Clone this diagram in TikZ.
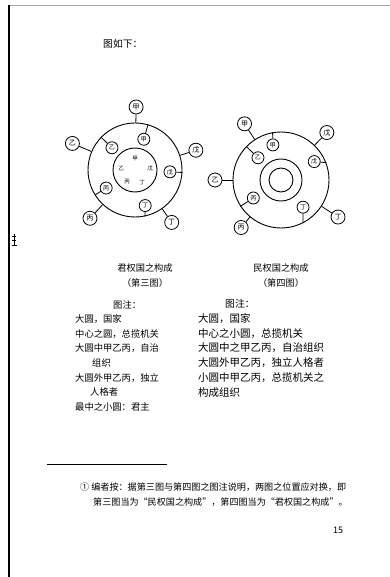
\documentclass[tikz,border=0pt]{standalone}
\usepackage{fontspec}
\setmainfont{Noto Sans CJK SC}
\usetikzlibrary{calc}
\newcommand{\myopenq}{\makebox[9pt][r]{“}}
\newcommand{\myclosq}{\makebox[9pt][l]{”}}
\begin{document}
\begin{tikzpicture}[x=1pt,y=-1pt,
  bigc/.style={circle,draw,line width=0.9pt,inner sep=0pt,minimum size=#1},
  oc/.style={circle,draw,line width=0.8pt,inner sep=0pt,minimum size=14pt,font=\fontsize{7}{7}\selectfont},
  ic/.style={circle,draw,line width=0.8pt,inner sep=0pt,minimum size=12pt,font=\fontsize{6}{6}\selectfont},
  link/.style={line width=0.8pt},
  tiny/.style={inner sep=0pt,font=\fontsize{5.5}{6}\selectfont},
  txt/.style={anchor=west,inner sep=0pt,font=\fontsize{10.5}{12}\selectfont},
  txtl/.style={anchor=west,inner sep=0pt,font=\fontsize{9.3}{11}\selectfont},
  captxt/.style={inner sep=0pt,font=\fontsize{9.2}{10}\selectfont},
  fn/.style={anchor=west,inner sep=0pt,font=\fontsize{9.1}{10}\selectfont}]
\useasboundingbox (0,0) rectangle (390,577);
% page edges
\draw[gray!70,line width=0.8pt] (8,5) -- (390,5);
\draw[line width=1.6pt] (9,5) -- (9,577);
\draw[line width=0.9pt] (14,234) -- (14,246) (12,236) -- (16,236) (12,240) -- (16,240) (11.5,245) -- (17,245);

\node[txt,font=\fontsize{9.8}{10}\selectfont] (head) at (103,44) {图如下：};

% ---------- left diagram ----------
\node[bigc=94pt] (L) at (135,170) {};
\node[bigc=44pt] (Lc) at (135,170) {};
\node[oc] (LoJ) at ($(L.center)+(-89:63)$) {甲};
\node[oc] (LoW) at ($(L.center)+(-18:64)$) {戊};
\node[oc] (LoD) at ($(L.center)+(55:64)$) {丁};
\node[oc] (LoB) at ($(L.center)+(133:66)$) {丙};
\node[oc] (LoY) at ($(L.center)+(-157:68)$) {乙};
\draw[link] (LoJ) -- (L.89);
\draw[link] (LoW) -- (L.18);
\draw[link] (LoD) -- (L.-55);
\draw[link] (LoB) -- (L.-133);
\draw[link] (LoY) -- (L.157);
\node[ic] (LiJ) at ($(L.center)+(-74:32)$) {甲};
\node[ic] (LiY) at ($(L.center)+(-136:32)$) {乙};
\node[ic] (LiB) at ($(L.center)+(148:34)$) {丙};
\node[ic] (LiD) at ($(L.center)+(74:37)$) {丁};
\node[ic] (LiW) at ($(L.center)+(3:35)$) {戊};
\draw[link] (LiJ) -- (L.74);
\draw[link] (LiY) -- (L.136);
\draw[link] (LiB) -- (L.-148);
\draw[link] (LiD) -- (L.-78);
\draw[link] (LiW) -- (L.-3);
\node[tiny] (cJ) at (135,159) {甲};
\node[tiny] (cW) at (150,168) {戊};
\node[tiny] (cY) at (121,169) {乙};
\node[tiny] (cB) at (127,182) {丙};
\node[tiny] (cD) at (142,183) {丁};

% ---------- right diagram ----------
\node[bigc=96pt] (R) at (281,180) {};
\node[bigc=42pt] (Rc) at (281,180) {};
\node[bigc=24pt] (Rcc) at (281,180) {};
\node[oc] (RoJ) at ($(R.center)+(-123:67)$) {甲};
\node[oc] (RoY) at ($(R.center)+(180:66)$) {乙};
\node[oc] (RoB) at ($(R.center)+(130:62)$) {丙};
\node[oc] (RoD) at ($(R.center)+(33:68)$) {丁};
\node[oc] (RoW) at ($(R.center)+(-46:66)$) {戊};
\draw[link] (RoJ) -- (R.123);
\draw[link] (RoY) -- (R.180);
\draw[link] (RoB) -- (R.-130);
\draw[link] (RoD) -- (R.-33);
\draw[link] (RoW) -- (R.46);
\node[ic] (RiJ) at ($(R.center)+(-103:36)$) {甲};
\node[ic] (RiY) at ($(R.center)+(-136:32)$) {乙};
\node[ic] (RiB) at ($(R.center)+(147:33)$) {丙};
\node[ic] (RiD) at ($(R.center)+(51:35)$) {丁};
\node[ic] (RiW) at ($(R.center)+(-29:38)$) {戊};
\draw[link] (RiJ) -- (R.100);
\draw[link] (RiY) -- (R.136);
\draw[link] (RiB) -- (R.-147);
\draw[link] (RiD) -- (R.-63);
\draw[link] (RiW) -- (R.21);

% ---------- captions ----------
\node[captxt] (capL1) at (145,268) {君权国之构成};
\node[captxt] (capL2) at (145,283) {（第三图）};
\node[captxt] (capR1) at (281,268) {民权国之构成};
\node[captxt] (capR2) at (281,283) {（第四图）};

% ---------- notes ----------
\node[txtl] (nL0) at (113,305) {图注：};
\node[txtl] (nL1) at (75,319) {大圆，国家};
\node[txtl] (nL2) at (75,334) {中心之圆，总揽机关};
\node[txtl] (nL3) at (75,348) {大圆中甲乙丙，自治};
\node[txtl] (nL4) at (92,363) {组织};
\node[txtl] (nL5) at (75,378) {大圆外甲乙丙，独立};
\node[txtl] (nL6) at (90,392) {人格者};
\node[txtl] (nL7) at (75,407) {最中之小圆：君主};

\node[txt,font=\fontsize{9.8}{10}\selectfont] (nR0) at (225,304) {图注：};
\node[txt] (nR1) at (198,319) {大圆，国家};
\node[txt] (nR2) at (198,334) {中心之小圆，总揽机关};
\node[txt] (nR3) at (198,348) {大圆中之甲乙丙，自治组织};
\node[txt] (nR4) at (198,363) {大圆外甲乙丙，独立人格者};
\node[txt] (nR5) at (198,378) {小圆中甲乙丙，总揽机关之};
\node[txt] (nR6) at (198,393) {构成组织};

% ---------- footnote ----------
\draw[line width=0.5pt] (47,464) -- (167,464);
\node[fn] (f1) at (80,487) {①\ 编者按：据第三图与第四图之图注说明，两图之位置应对换，即};
\node[fn] (f2) at (93,502) {第三图当为\myopenq 民权国之构成\myclosq ，第四图当为\myopenq 君权国之构成\myclosq 。};
\node[inner sep=0pt,font=\fontsize{9}{10}\selectfont] (pg) at (338,530) {15};
\end{tikzpicture}
\end{document}
